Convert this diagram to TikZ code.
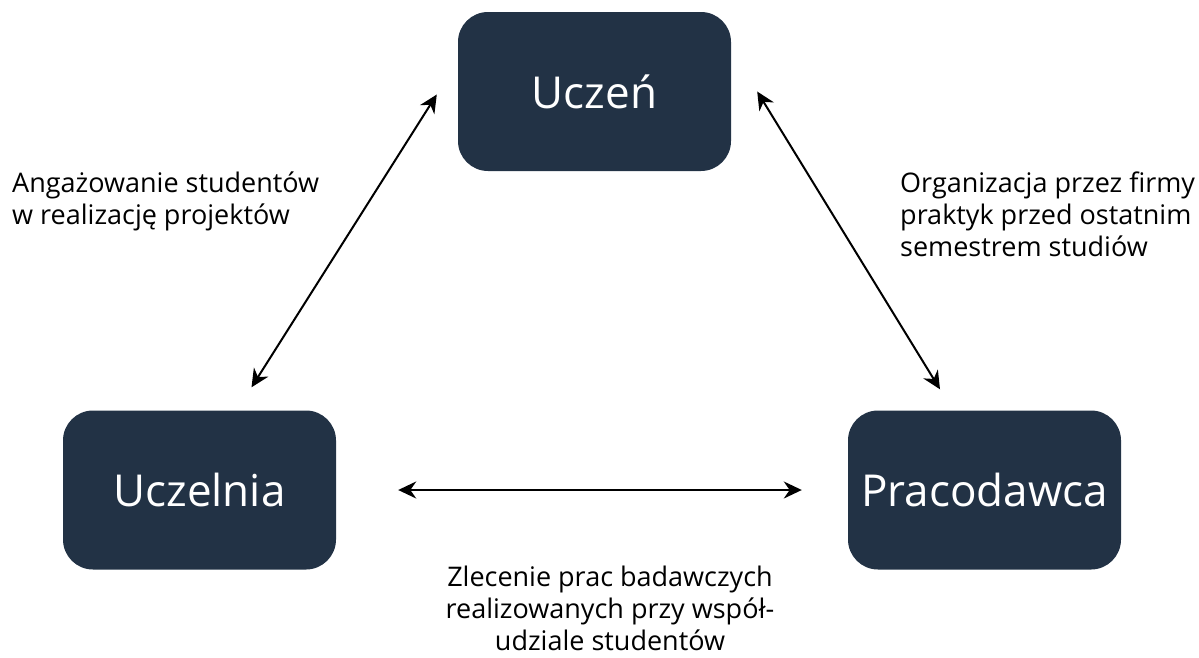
\documentclass[tikz,border=0pt]{standalone}
\usepackage{fontspec}
\setmainfont{Open Sans}
\usetikzlibrary{arrows.meta}
\definecolor{boxnavy}{HTML}{223245}

\tikzset{
    partner/.style={fill=boxnavy, rounded corners=30pt, minimum width=273pt,
        minimum height=159pt, inner sep=0pt, text=white,
        font=\fontsize{44}{50}\selectfont},
    link/.style={line width=2pt, >={Stealth[length=18pt,width=17pt]}, <->},
    caption/.style={inner sep=0pt, font=\fontsize{27}{32}\selectfont}
}

\begin{document}
\begin{tikzpicture}[x=1pt,y=-1pt]
    \useasboundingbox (0,0) rectangle (1199,657);
    \node[partner] (uczen) at (594.5,91.5) {Uczeń};
    \node[partner] (uczelnia) at (199.5,490) {Uczelnia};
    \node[partner] (pracodawca) at (984.5,490) {Pracodawca};

    \coordinate (l1) at ([shift={(-21,3)}]uczen.west);
    \coordinate (l2) at ([shift={(52,-23)}]uczelnia.north);
    \coordinate (r1) at ([shift={(26,0)}]uczen.east);
    \coordinate (r2) at ([shift={(-44.5,-21)}]pracodawca.north);
    \draw[link] (l1) -- (l2);
    \draw[link] (r1) -- (r2);
    \draw[link, shorten <=62pt, shorten >=46pt] (uczelnia) -- (pracodawca);

    \node[caption, align=left, anchor=north west] (txtl) at (12,172)
      {Angażowanie studentów\\w realizację projektów};
    \node[caption, align=left, anchor=north west] (txtr) at (900,172)
      {Organizacja przez firmy\\praktyk przed ostatnim\\semestrem studiów};
    \node[caption, align=center, anchor=north] (txtb) at (610,566)
      {Zlecenie prac badawczych\\realizowanych przy współ-\\udziale studentów};
\end{tikzpicture}
\end{document}
